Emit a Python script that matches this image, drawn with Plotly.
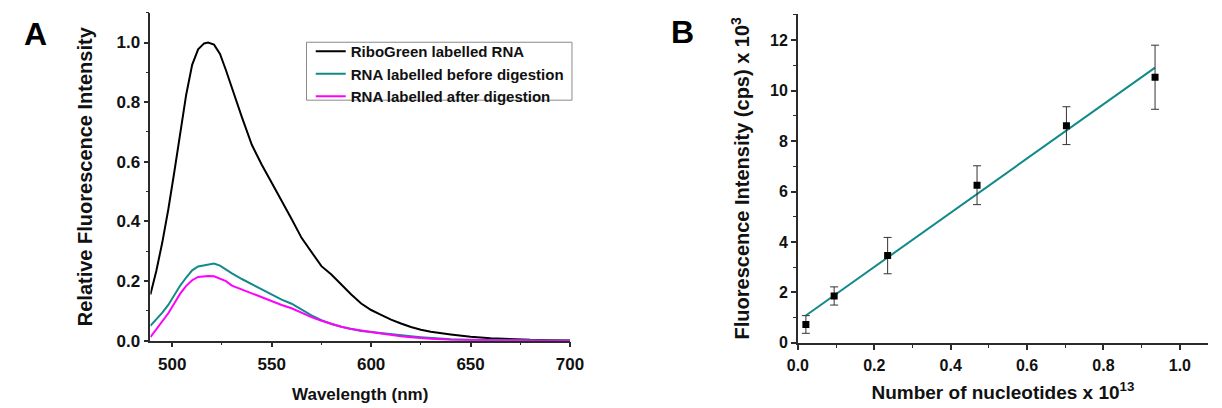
import numpy as np
import plotly.graph_objects as go

# ---------------- Panel A data ----------------
wavelength = [489, 492, 495, 498, 501, 504, 507, 510, 513, 516, 518, 521, 524, 527, 530,
              535, 540, 545, 550, 555, 560, 565, 570, 575, 580, 585, 590, 595, 600,
              605, 610, 615, 620, 625, 630, 640, 650, 660, 670, 680, 690, 700]
ribogreen = [0.155, 0.235, 0.33, 0.44, 0.565, 0.70, 0.825, 0.925, 0.977, 0.997, 1.0, 0.993,
             0.962, 0.907, 0.847, 0.75, 0.657, 0.59, 0.53, 0.471, 0.408, 0.345, 0.298,
             0.250, 0.222, 0.188, 0.155, 0.125, 0.103, 0.087, 0.071, 0.058, 0.046, 0.037,
             0.030, 0.021, 0.013, 0.008, 0.005, 0.003, 0.002, 0.001]
before_digestion = [0.050, 0.072, 0.094, 0.120, 0.152, 0.185, 0.212, 0.236, 0.249, 0.253,
                    0.256, 0.259, 0.252, 0.238, 0.226, 0.207, 0.190, 0.172, 0.154, 0.138,
                    0.124, 0.105, 0.085, 0.069, 0.056, 0.047, 0.039, 0.033, 0.029, 0.025,
                    0.021, 0.018, 0.015, 0.012, 0.009, 0.005, 0.003, 0.002, 0.001, 0.001,
                    0.0, 0.0]
after_digestion = [0.012, 0.040, 0.066, 0.092, 0.125, 0.158, 0.184, 0.203, 0.214, 0.216,
                   0.217, 0.216, 0.209, 0.200, 0.185, 0.172, 0.158, 0.145, 0.132, 0.120,
                   0.109, 0.093, 0.079, 0.067, 0.056, 0.047, 0.039, 0.033, 0.029, 0.024,
                   0.019, 0.015, 0.012, 0.009, 0.007, 0.003, 0.002, 0.001, 0.0, 0.0, 0.0, 0.0]
series_names = ["RiboGreen labelled RNA", "RNA labelled before digestion",
                "RNA labelled after digestion"]

# ---------------- Panel B data ----------------
nucleotides = [0.021, 0.095, 0.235, 0.469, 0.703, 0.935]
intensity = [0.73, 1.86, 3.46, 6.25, 8.61, 10.53]
intensity_err = [0.35, 0.36, 0.72, 0.77, 0.75, 1.27]
fit_slope = 10.75
fit_intercept = 0.86

W, H = 1222, 408
FONT = "Liberation Sans, Arial, sans-serif"
AX = "#2b2b2b"
TEAL = "#138a8a"


def px(x):
    return x / W


def py(y):
    return 1 - y / H


fig = go.Figure()
colors = ["#000000", TEAL, "#ff00ff"]
for name, ys, c in zip(series_names, [ribogreen, before_digestion, after_digestion], colors):
    fig.add_trace(go.Scatter(x=wavelength, y=ys, mode="lines", name=name,
                             line=dict(color=c, width=2), xaxis="x", yaxis="y"))

fit_x = np.array([nucleotides[0], nucleotides[-1]])
fig.add_trace(go.Scatter(x=fit_x, y=fit_intercept + fit_slope * fit_x, mode="lines",
                         line=dict(color=TEAL, width=2), showlegend=False,
                         xaxis="x2", yaxis="y2"))
fig.add_trace(go.Scatter(x=nucleotides, y=intensity, mode="markers",
                         marker=dict(symbol="square", size=7, color="black"),
                         error_y=dict(type="data", array=intensity_err, color="#333333",
                                      thickness=1, width=4),
                         showlegend=False, xaxis="x2", yaxis="y2"))


def axis_style(**kw):
    d = dict(showline=True, linecolor=AX, linewidth=1.5, ticks="outside", ticklen=5,
             tickwidth=1.5, tickcolor=AX, showgrid=False, zeroline=False,
             tickfont=dict(family=FONT, size=17, color="#111", weight="bold"))
    d.update(kw)
    return d


fig.update_layout(
    width=W, height=H,
    margin=dict(l=0, r=0, t=0, b=0),
    paper_bgcolor="white", plot_bgcolor="white",
    font=dict(family=FONT, color="#111", weight="bold"),
    xaxis=axis_style(domain=[px(142.3), px(570.7)], range=[489, 700], tick0=500, dtick=50,
                     ticklabelstandoff=2,
                     minor=dict(dtick=25, ticks="outside", ticklen=3, tickcolor=AX, tickwidth=1),
                     title=dict(text="Wavelength (nm)", standoff=15,
                                font=dict(family=FONT, size=17, weight="bold")),
                     anchor="y"),
    yaxis=axis_style(domain=[py(349.3), py(13)], range=[0, 1.1], tick0=0, dtick=0.2,
                     tickformat=".1f",
                     minor=dict(dtick=0.1, ticks="outside", ticklen=3, tickcolor=AX, tickwidth=1),
                     title=dict(text="Relative Fluorescence Intensity", standoff=19,
                                font=dict(family=FONT, size=20, weight="bold")),
                     anchor="x"),
    xaxis2=axis_style(domain=[px(803.3), 1.0], range=[0, 1.0736], tick0=0, dtick=0.2,
                      tickformat=".1f", ticklabelstandoff=2,
                      tickfont=dict(family=FONT, size=16, color="#111", weight="bold"),
                      minor=dict(dtick=0.1, ticks="outside", ticklen=3, tickcolor=AX, tickwidth=1),
                      title=dict(text="Number of nucleotides x 10<sup>13</sup>", standoff=13,
                                 font=dict(family=FONT, size=19, weight="bold")),
                      anchor="y2"),
    yaxis2=axis_style(domain=[py(351.5), py(14)], range=[0, 13.05], tick0=0, dtick=2,
                      tickfont=dict(family=FONT, size=16, color="#111", weight="bold"),
                      minor=dict(dtick=1, ticks="outside", ticklen=3, tickcolor=AX, tickwidth=1),
                      title=dict(text="Fluorescence Intensity (cps) x 10<sup>3</sup>", standoff=15,
                                 font=dict(family=FONT, size=20, weight="bold")),
                      anchor="x2"),
    legend=dict(x=px(306), y=py(36), xanchor="left", yanchor="top",
                bgcolor="rgba(0,0,0,0)", borderwidth=0,
                font=dict(family=FONT, size=15, color="#111", weight="bold")),
    shapes=[dict(type="rect", xref="paper", yref="paper",
                 x0=px(301.7), x1=px(572.7), y0=py(102.7), y1=py(43.3),
                 line=dict(color="#8a8a8a", width=1), fillcolor="rgba(0,0,0,0)")],
    annotations=[
        dict(text="A", x=px(25), y=py(35), xref="paper", yref="paper", showarrow=False,
             xanchor="center", yanchor="middle",
             font=dict(family=FONT, size=32, color="black", weight="bold")),
        dict(text="B", x=px(686), y=py(33), xref="paper", yref="paper", showarrow=False,
             xanchor="center", yanchor="middle",
             font=dict(family=FONT, size=32, color="black", weight="bold")),
    ],
)

# remove the browser's default page margin so the figure sits at the window origin
fig.write_html("out.html", config={"displayModeBar": False},
               post_script="document.body.style.margin='0';")
